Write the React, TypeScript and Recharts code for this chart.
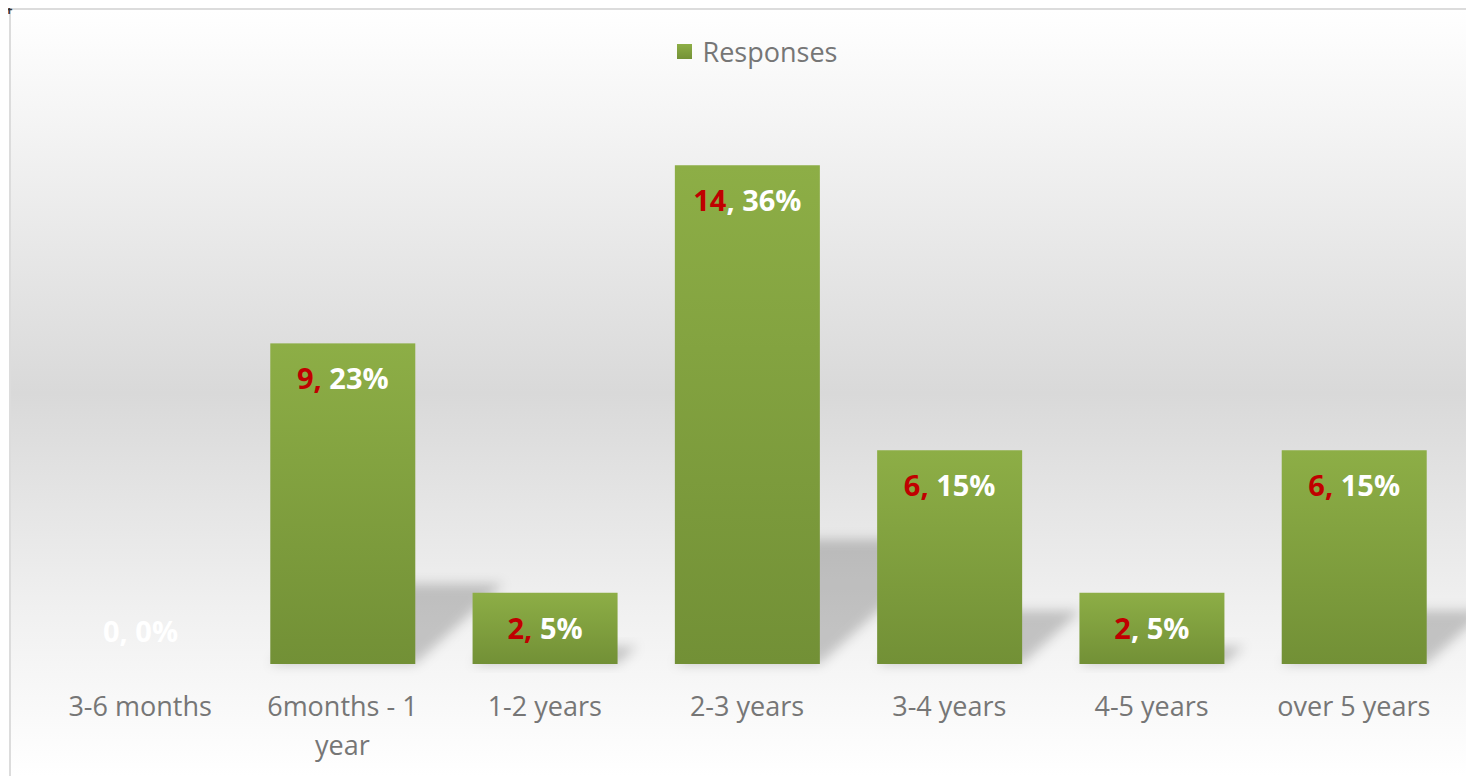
import { Bar, BarChart, LabelList, Legend, XAxis, YAxis } from "recharts";

const categories = ["3-6 months", "6months - 1 year", "1-2 years", "2-3 years", "3-4 years", "4-5 years", "over 5 years"];
const responses = [0, 9, 2, 14, 6, 2, 6];
const percents = [0, 23, 5, 36, 15, 5, 15];
// whether the comma after the count is red (as in the original)
const redComma = [false, true, true, false, true, false, true];

const FONT = "'Open Sans', Lato, sans-serif";
const RED = "#c00000";

const data = categories.map((name, i) => ({ name, responses: responses[i] }));

// greedy wrap by character count
const wrap = (s: string, max: number) => {
    const lines: string[] = [];
    let cur = "";
    for (const w of s.split(" ")) {
        const next = cur ? cur + " " + w : w;
        if (next.length > max && cur) {
            lines.push(cur);
            cur = w;
        } else cur = next;
    }
    if (cur) lines.push(cur);
    return lines;
};

const BarWithShadow = (props: any) => {
    const { x, y, width, height } = props;
    if (!height || height <= 0) return null;
    const base = y + height;
    const h = height * 0.25;
    const dx = h * 1.1;
    const pts = `${x},${base} ${x + width},${base} ${x + width + dx},${base - h} ${x + dx},${base - h}`;
    return (
        <g>
            <polygon points={pts} fill="#000" fillOpacity={0.2} filter="url(#shadowBlur)" />
            <rect x={x} y={y} width={width} height={height} fill="url(#barGrad)" />
        </g>
    );
};

const renderLabel = (props: any) => {
    const { x, y, width, index } = props;
    const v = responses[index];
    const cx = x + width / 2;
    const ty = v === 0 ? y - 22 : y + 46;
    const countFill = v === 0 ? "#fff" : RED;
    return (
        <text x={cx} y={ty} textAnchor="middle" fontFamily={FONT} fontSize={29} fontWeight="bold" fill="#fff">
            <tspan fill={countFill}>{v}</tspan>
            <tspan fill={redComma[index] ? RED : "#fff"}>,</tspan>
            <tspan fill="#fff">{` ${percents[index]}%`}</tspan>
        </text>
    );
};

const renderTick = (props: any) => {
    const { x, y, payload } = props;
    const lines = wrap(String(payload.value), 12);
    return (
        <text x={x} y={y + 50} textAnchor="middle" fontFamily={FONT} fontSize={27} fill="#767676">
            {lines.map((l, i) => (
                <tspan key={i} x={x} dy={i === 0 ? 0 : 39}>{l}</tspan>
            ))}
        </text>
    );
};

const renderLegend = () => (
    <div style={{ display: "flex", justifyContent: "center", alignItems: "center", height: 30, fontFamily: FONT, fontSize: 27, color: "#767676" }}>
        <span style={{ display: "inline-block", width: 15, height: 15, background: "linear-gradient(#8dae46, #749236)", marginRight: 11, marginLeft: 20 }} />
        <span>Responses</span>
    </div>
);

const App = () => {
    return (
        <div style={{ position: "relative", left: 1, width: 1466, height: 768 }}>
            <div style={{
                position: "absolute", left: 0, top: 0, width: 1464, height: 766,
                borderTop: "2px solid #dcdcdc", borderLeft: "2px solid #dcdcdc",
                background: "linear-gradient(#ffffff 0%, #f4f4f4 15%, #d9d9d9 50%, #f0f0f0 78%, #ffffff 100%)",
            }}>
                <BarChart width={1463} height={766} data={data}
                          margin={{ top: 54, right: 19, left: 28, bottom: 0 }} barCategoryGap={0}>
                    <defs>
                        <linearGradient id="barGrad" x1="0" y1="0" x2="0" y2="1">
                            <stop offset="0%" stopColor="#8dae46" />
                            <stop offset="100%" stopColor="#729036" />
                        </linearGradient>
                        <filter id="shadowBlur" x="-50%" y="-50%" width="200%" height="200%">
                            <feGaussianBlur stdDeviation="6" />
                        </filter>
                    </defs>
                    <XAxis dataKey="name" tickLine={false} axisLine={false} tickSize={0} height={112}
                           interval={0} tick={renderTick} />
                    <YAxis hide domain={[0, 16]} />
                    <Legend verticalAlign="top" align="center" content={renderLegend} wrapperStyle={{ top: 26 }} />
                    <Bar dataKey="responses" name="Responses" barSize={145} shape={BarWithShadow}
                         isAnimationActive={false}>
                        <LabelList dataKey="responses" content={renderLabel} />
                    </Bar>
                </BarChart>
            </div>
            <div style={{ position: "absolute", zIndex: 1, left: -8, top: -11, fontFamily: FONT, fontSize: 20, color: "#333", lineHeight: "20px" }}>4</div>
        </div>
    );
};

export default App;
